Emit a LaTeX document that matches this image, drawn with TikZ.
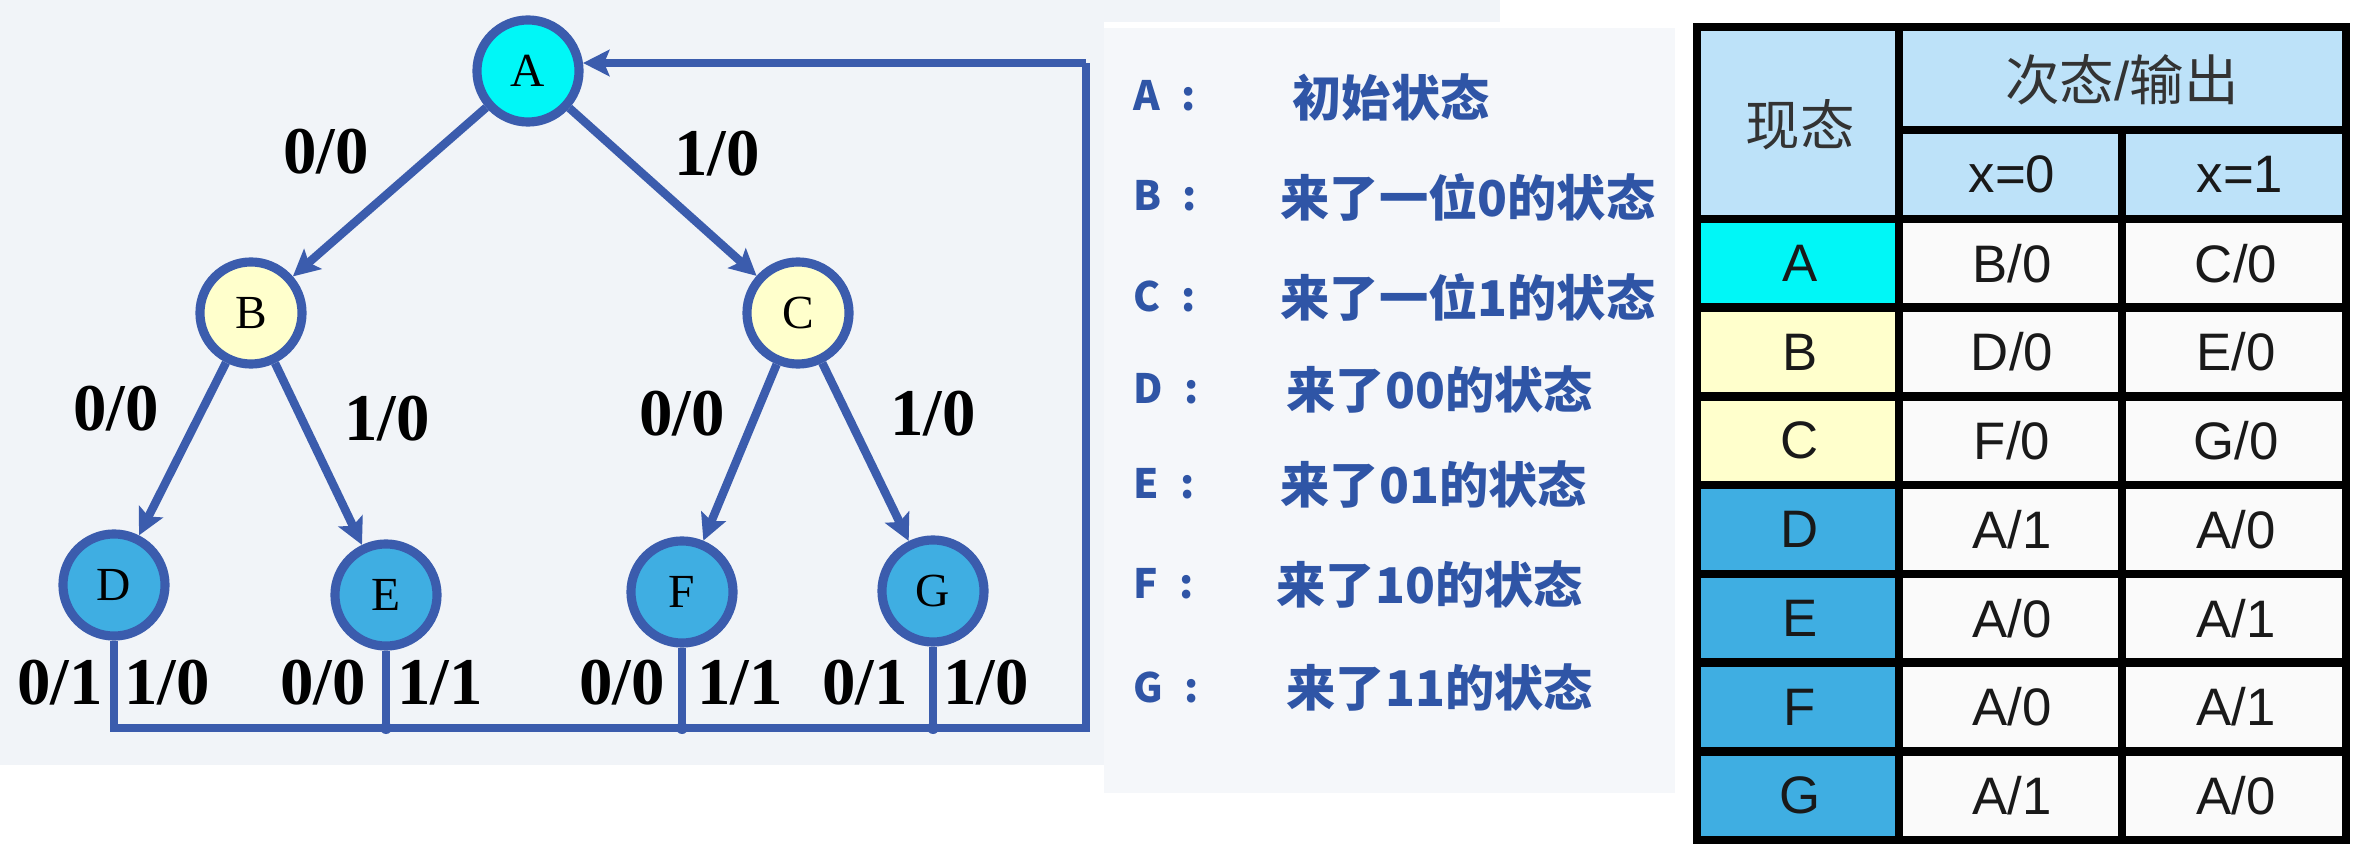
\documentclass[tikz,border=0pt]{standalone}
\usepackage{fontspec}
\setmainfont{Liberation Serif}
\newfontfamily\cjk{Noto Sans CJK SC}
\newfontfamily\arial{Liberation Sans}
\usetikzlibrary{arrows.meta}
\definecolor{lineblue}{HTML}{3B5CAD}
\definecolor{textblue}{HTML}{2F55A6}
\definecolor{stA}{HTML}{00F7F7}
\definecolor{stBC}{HTML}{FFFFCC}
\definecolor{stD}{HTML}{3FAEE2}
\definecolor{hdr}{HTML}{BDE2F9}
\definecolor{bgL}{HTML}{F1F4F8}
\definecolor{bgM}{HTML}{F5F7FA}
\begin{document}
\begin{tikzpicture}[x=0.01cm,y=-0.01cm,
  state/.style={circle, draw=lineblue, line width=2.6pt, minimum size=1.02cm, inner sep=0pt,
    font=\fontsize{13.5}{14}\selectfont},
  edge/.style={draw=lineblue, line width=2.4pt, -{Stealth[length=7.5pt,width=7.5pt,inset=1.5pt]}},
  fb/.style={draw=lineblue, line width=2.4pt},
  elabel/.style={font=\bfseries\fontsize{19}{19}\selectfont, inner sep=0pt},
  keytxt/.style={anchor=west, text=textblue, font=\cjk\bfseries\fontsize{11.5}{12}\selectfont, inner sep=0pt},
  desc/.style={anchor=west, text=textblue, font=\cjk\bfseries\fontsize{14}{14}\selectfont, inner sep=0pt},
  cell/.style={font=\arial\fontsize{15}{15}\selectfont, text=black!90, inner sep=0pt},
  hcell/.style={font=\cjk\fontsize{15.5}{16}\selectfont, text=black!80, inner sep=0pt},
  grid/.style={draw=black, line width=2.4pt}
]
\useasboundingbox (0,0) rectangle (2360,852);
% backgrounds
\fill[bgL] (0,0) rectangle (1104,765);
\fill[bgL] (1104,0) rectangle (1500,22);
\fill[bgM] (1104,28) rectangle (1675,793);

% states
\node[state, fill=stA]  (A) at (528,71)  {A};
\node[state, fill=stBC] (B) at (251,313) {B};
\node[state, fill=stBC] (C) at (798,313) {C};
\node[state, fill=stD]  (D) at (114,585) {D};
\node[state, fill=stD]  (E) at (386,595) {E};
\node[state, fill=stD]  (F) at (682,592) {F};
\node[state, fill=stD]  (G) at (933,591) {G};

% transitions
\draw[edge] (A) -- (B);
\draw[edge] (A) -- (C);
\draw[edge] (B) -- (D);
\draw[edge] (B) -- (E);
\draw[edge] (C) -- (F);
\draw[edge] (C) -- (G);

% feedback
\coordinate (bl) at (114,728);
\coordinate (br) at (1086,728);
\coordinate (tr) at (1086,63);
\draw[fb, line join=miter] (D.south) -- (bl) -- (br) -- (tr);
\draw[fb, -{Stealth[length=7.5pt,width=7.5pt,inset=1.5pt]}] (tr) -- (A.8 |- tr);
\draw[fb] (E.south) -- (E.south |- br);
\draw[fb] (F.south) -- (F.south |- br);
\draw[fb] (G.south) -- (G.south |- br);
\fill[lineblue] (E.south |- br) circle (6);
\fill[lineblue] (F.south |- br) circle (6);
\fill[lineblue] (G.south |- br) circle (6);

% edge labels
\node[elabel] (lAB) at (326,152) {0/0};
\node[elabel] (lAC) at (717,154) {1/0};
\node[elabel] (lBD) at (116,409) {0/0};
\node[elabel] (lBE) at (387,419) {1/0};
\node[elabel] (lCF) at (682,414) {0/0};
\node[elabel] (lCG) at (933,414) {1/0};
\node[elabel] (lD0) at (60,683)  {0/1};
\node[elabel] (lD1) at (167,683) {1/0};
\node[elabel] (lE0) at (323,683) {0/0};
\node[elabel] (lE1) at (440,683) {1/1};
\node[elabel] (lF0) at (622,683) {0/0};
\node[elabel] (lF1) at (740,683) {1/1};
\node[elabel] (lG0) at (865,683) {0/1};
\node[elabel] (lG1) at (986,683) {1/0};

% key
\node[keytxt] (kA) at (1133,96)  {A\hspace{6pt}:};
\node[keytxt] (kB) at (1133,196) {B\hspace{6pt}:};
\node[keytxt] (kC) at (1133,296) {C\hspace{6pt}:};
\node[keytxt] (kD) at (1133,389) {D\hspace{6pt}:};
\node[keytxt] (kE) at (1133,484) {E\hspace{6pt}:};
\node[keytxt] (kF) at (1133,584) {F\hspace{6pt}:};
\node[keytxt] (kG) at (1133,687) {G\hspace{6pt}:};
\node[desc] (dA) at (1292,97)  {初始状态};
\node[desc] (dB) at (1280,197) {来了一位0的状态};
\node[desc] (dC) at (1280,297) {来了一位1的状态};
\node[desc] (dD) at (1286,390) {来了00的状态};
\node[desc] (dE) at (1280,485) {来了01的状态};
\node[desc] (dF) at (1276,585) {来了10的状态};
\node[desc] (dG) at (1286,688) {来了11的状态};

% table
\fill[hdr] (1697,27) rectangle (2346,219);
\fill[white!98!black] (1899,219) rectangle (2346,840);
\foreach \s/\na/\oa/\nb/\ob/\c/\i in {
  A/B/0/C/0/stA/0, B/D/0/E/0/stBC/1, C/F/0/G/0/stBC/2, D/A/1/A/0/stD/3,
  E/A/0/A/1/stD/4, F/A/0/A/1/stD/5, G/A/1/A/0/stD/6}{
  \pgfmathsetmacro\ytop{219+88.714*\i}
  \pgfmathsetmacro\ybot{219+88.714*(\i+1)}
  \pgfmathsetmacro\ymid{219+88.714*(\i+0.5)}
  \fill[\c] (1697,\ytop) rectangle (1899,\ybot);
  \node[cell] (s\s) at (1800,\ymid) {\s};
  \node[cell] (x\s) at (2012,\ymid) {\na/\oa};
  \node[cell] (y\s) at (2236,\ymid) {\nb/\ob};
}
\foreach \i in {1,...,6}{
  \pgfmathsetmacro\yy{219+88.714*\i}
  \draw[grid] (1697,\yy) -- (2346,\yy);
}
\draw[grid] (1697,219) -- (2346,219);
\draw[grid] (1899,130) -- (2346,130);
\draw[grid] (1899,27) -- (1899,840);
\draw[grid] (2122,130) -- (2122,840);
\draw[grid] (1697,27) rectangle (2346,840);
\node[hcell] (hNow) at (1800,125) {现态};
\node[hcell] (hNext) at (2122,80) {次态\arial/\cjk 输出};
\node[cell] (hx0) at (2012,174) {x=0};
\node[cell] (hx1) at (2240,174) {x=1};
\end{tikzpicture}
\end{document}
